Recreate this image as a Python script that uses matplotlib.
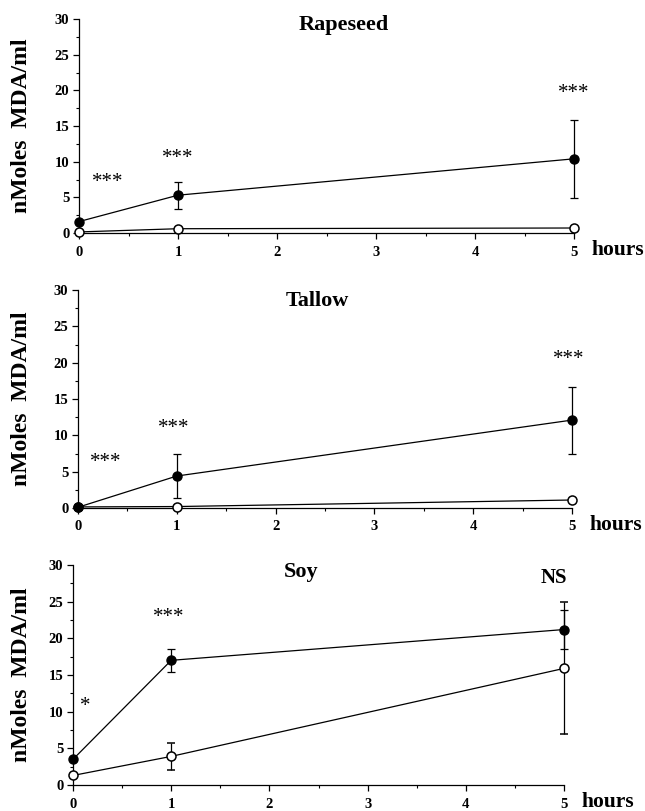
import numpy as np
import matplotlib
matplotlib.use("Agg")
import matplotlib.pyplot as plt
from matplotlib.ticker import MultipleLocator

plt.rcParams['font.family'] = ['Liberation Serif', 'DejaVu Serif']
plt.rcParams['font.weight'] = 'bold'

hours = [0, 1, 5]

# Rapeseed
rape_fill = [1.6, 5.3, 10.4]
rape_fill_err = [0.0, 1.9, 5.5]
rape_open = [0.15, 0.6, 0.7]
rape_open_err = [0.0, 0.0, 0.0]

# Tallow
tallow_fill = [0.1, 4.4, 12.1]
tallow_fill_err = [0.0, 3.0, 4.6]
tallow_open = [0.15, 0.2, 1.1]
tallow_open_err = [0.0, 0.0, 0.0]

# Soy
soy_fill = [3.5, 17.0, 21.2]
soy_fill_err = [0.0, 1.6, 2.6]
soy_open = [1.3, 3.9, 15.9]
soy_open_err = [0.0, 1.8, 9.0]

titles = ["Rapeseed", "Tallow", "Soy"]
title_pos = [(2.67, 29.2), (2.42, 28.5), (2.32, 29.0)]

# significance marks: (x, y, text, bold)
marks = [
    [(0.29, 7.1, "***", False), (1.0, 10.5, "***", False), (5.0, 19.5, "***", False)],
    [(0.28, 6.3, "***", False), (0.97, 11.0, "***", False), (4.97, 20.5, "***", False)],
    [(0.12, 10.7, "*", False), (0.97, 22.9, "***", False), (4.9, 28.2, "NS", True)],
]

panels = [
    (rape_fill, rape_fill_err, rape_open, rape_open_err),
    (tallow_fill, tallow_fill_err, tallow_open, tallow_open_err),
    (soy_fill, soy_fill_err, soy_open, soy_open_err),
]

W, H = 645, 811
# axes boxes in pixels: left, right, top, bottom
boxes = [(79, 574, 19, 233), (78, 572, 290, 508), (73, 564, 565, 785)]

fig = plt.figure(figsize=(6.45, 8.11), dpi=100)

for i, (fill, fill_err, opn, opn_err) in enumerate(panels):
    l, r, t, b = boxes[i]
    ax = fig.add_axes([l / W, 1 - b / H, (r - l) / W, (b - t) / H])

    ax.errorbar(hours, opn, yerr=opn_err, color='black', lw=0.9,
                marker='o', ms=6.5, mfc='white', mec='black', mew=1.1,
                capsize=3, elinewidth=0.9, capthick=0.9, clip_on=False, zorder=3)
    ax.errorbar(hours, fill, yerr=fill_err, color='black', lw=0.9,
                marker='o', ms=6.5, mfc='black', mec='black',
                capsize=3, elinewidth=0.9, capthick=0.9, clip_on=False, zorder=4)

    ax.set_xlim(0, 5)
    ax.set_ylim(0, 30)
    ax.xaxis.set_major_locator(MultipleLocator(1))
    ax.xaxis.set_minor_locator(MultipleLocator(0.5))
    ax.yaxis.set_major_locator(MultipleLocator(5))
    ax.yaxis.set_minor_locator(MultipleLocator(2.5))
    ax.tick_params(which='major', length=4, width=0.9, labelsize=10.5, pad=3)
    ax.tick_params(which='minor', length=2, width=0.8)
    ax.tick_params(axis='x', which='major', pad=5)
    for lab in ax.get_xticklabels() + ax.get_yticklabels():
        lab.set_fontweight('bold')

    ax.spines['top'].set_visible(False)
    ax.spines['right'].set_visible(False)
    ax.spines['left'].set_linewidth(0.9)
    ax.spines['bottom'].set_linewidth(0.9)

    ax.set_ylabel("nMoles  MDA/ml", fontsize=17, fontweight='bold')
    ax.yaxis.set_label_coords(-(l - 32) / (r - l), 0.5)

    tx, ty = title_pos[i]
    ax.text(tx, ty, titles[i], ha='center', va='center', fontsize=16, fontweight='bold')
    for mx, my, mt, bold in marks[i]:
        ax.text(mx, my, mt, ha='center', va='center', fontsize=15,
                fontweight='bold' if bold else 'normal')

    ax.annotate("hours", xy=(1, 0), xycoords='axes fraction',
                xytext=(18, -17), textcoords='offset pixels',
                ha='left', va='center', fontsize=15.5, fontweight='bold')

fig.savefig("out.png", dpi=100)
